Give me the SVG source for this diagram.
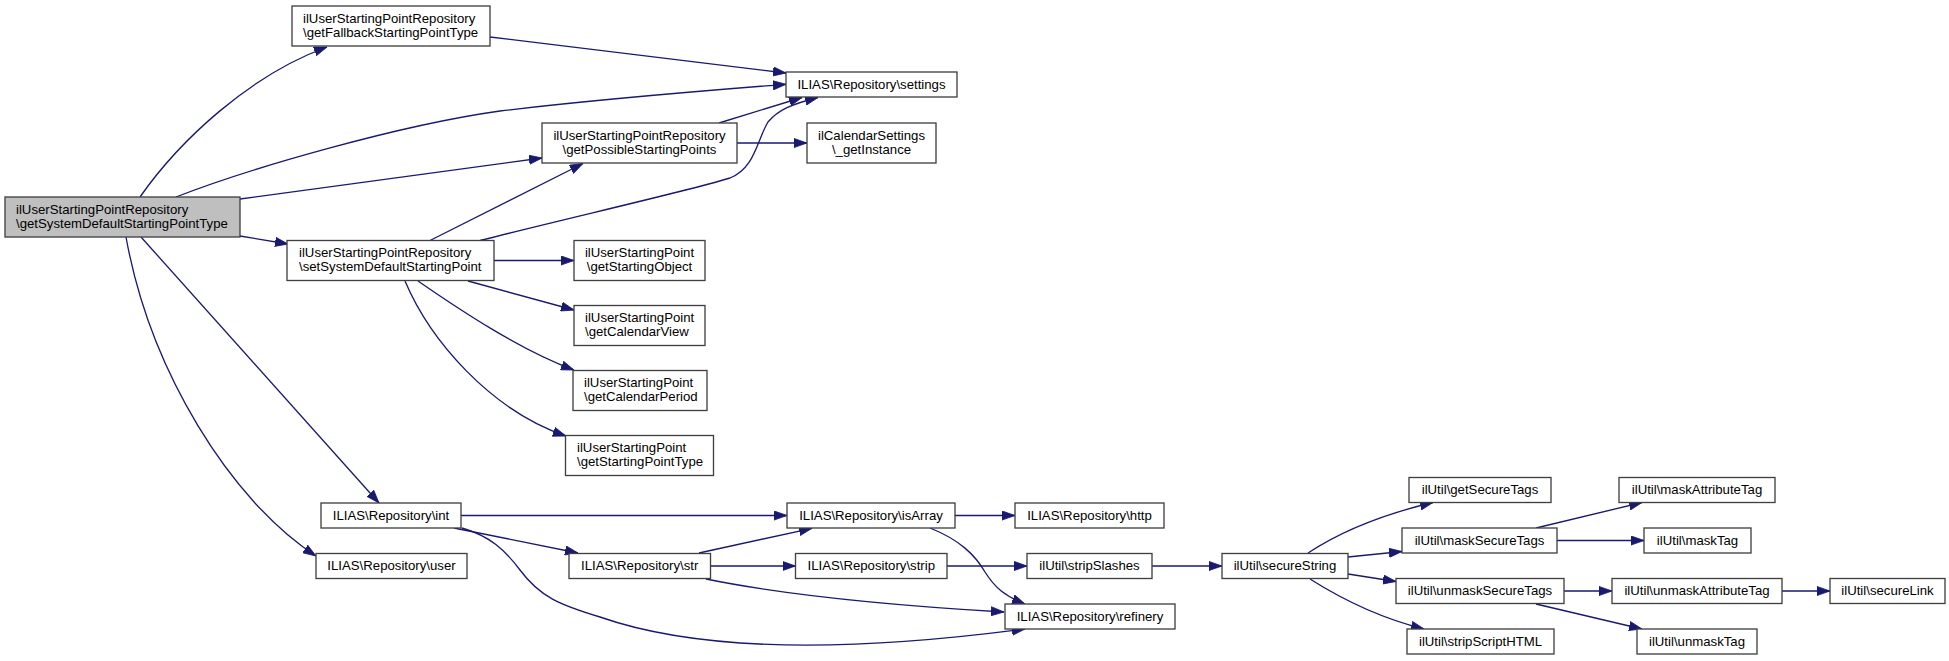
<svg xmlns="http://www.w3.org/2000/svg" width="1949" height="661" viewBox="0 0 1949 661">
<style>
.n rect{fill:#fff;stroke:#404040;stroke-width:1.33}
.n.main rect{fill:#bfbfbf}
.n text{font-family:"Liberation Sans",Arial,Helvetica,sans-serif;font-size:13.2px;fill:#000}
.c{text-anchor:middle}
.e path{fill:none;stroke:#191970;stroke-width:1.33;marker-end:url(#ah)}
</style>
<defs>
<marker id="ah" viewBox="0 0 13 10" refX="13" refY="5" markerWidth="13" markerHeight="10" markerUnits="userSpaceOnUse" orient="auto">
<path d="M0,0.4 L13,5 L0,9.6 z" fill="#191970" stroke="#191970" stroke-width="0.8"/>
</marker>
</defs>
<rect width="1949" height="661" fill="#fff"/>
<g id="edges" class="e">
<path d="M140,197 C180,140 250,75 327,47"/>
<path d="M176,197 C250,168 400,125 500,111 C600,99 700,91 786,84.3"/>
<path d="M240,199 L542,158"/>
<path d="M240,236 L288,244"/>
<path d="M141,237 L379,503"/>
<path d="M126,237 C150,370 230,500 316,556"/>
<path d="M490,37 L786,73"/>
<path d="M719,123 L802,97.5"/>
<path d="M737,143 L807,143"/>
<path d="M430,240.5 L583,163.5"/>
<path d="M480,240.5 C560,220 700,188 730,178 C755,168 757,140 768,122 C778,110 792,104 818,97.5"/>
<path d="M494,260.5 L574,260.5"/>
<path d="M468,281 L574,310"/>
<path d="M418,281 C460,310 520,350 574,370"/>
<path d="M405,281 C430,340 490,410 566,436"/>
<path d="M461,515.5 L787,515.5"/>
<path d="M454,528 L578,553"/>
<path d="M462,528 C490,536 505,550 520,570 C540,597 560,605 600,617 C700,652 850,652 1025,629"/>
<path d="M699,553 L812,528.3"/>
<path d="M710.5,566 L795.5,566"/>
<path d="M706,579 C760,590 850,603 1004,612"/>
<path d="M955,515.5 L1015,515.5"/>
<path d="M930,528 C960,540 975,555 985,572 C995,588 1005,596 1025,604"/>
<path d="M947,566 L1027,566"/>
<path d="M1152,566 L1222,566"/>
<path d="M1308,553 C1340,532 1380,515 1433,502.5"/>
<path d="M1348,557 L1402,551.5"/>
<path d="M1348,574 L1396,581.5"/>
<path d="M1310,579 C1340,598 1380,618 1424,629"/>
<path d="M1536,528 L1642,502.5"/>
<path d="M1557,540.5 L1644,540.5"/>
<path d="M1564,591 L1612,591"/>
<path d="M1536,604 L1642,629"/>
<path d="M1782,591 L1830,591"/>
</g>
<g id="n_main" class="n main"><rect x="5" y="197" width="235" height="40"/><text x="16" y="213.5">ilUserStartingPointRepository</text><text x="16" y="227.5">\getSystemDefaultStartingPointType</text></g>
<g id="n_fallback" class="n"><rect x="292" y="6" width="198" height="40"/><text x="303" y="22.5">ilUserStartingPointRepository</text><text x="303" y="36.5">\getFallbackStartingPointType</text></g>
<g id="n_possible" class="n"><rect x="542" y="123" width="195" height="40"/><text class="c" x="639.5" y="139.5">ilUserStartingPointRepository</text><text class="c" x="639.5" y="153.5">\getPossibleStartingPoints</text></g>
<g id="n_setsys" class="n"><rect x="287" y="240.5" width="207" height="40"/><text x="299" y="257">ilUserStartingPointRepository</text><text x="299" y="271">\setSystemDefaultStartingPoint</text></g>
<g id="n_settings" class="n"><rect x="786" y="72" width="171" height="25"/><text class="c" x="871.5" y="88.5">ILIAS\Repository\settings</text></g>
<g id="n_getinstance" class="n"><rect x="807" y="123" width="129" height="40"/><text class="c" x="871.5" y="139.5">ilCalendarSettings</text><text class="c" x="871.5" y="153.5">\_getInstance</text></g>
<g id="n_startobj" class="n"><rect x="574" y="240.5" width="131" height="40"/><text class="c" x="639.5" y="257">ilUserStartingPoint</text><text class="c" x="639.5" y="271">\getStartingObject</text></g>
<g id="n_calview" class="n"><rect x="574" y="305.5" width="131" height="40"/><text x="585" y="322">ilUserStartingPoint</text><text x="585" y="336">\getCalendarView</text></g>
<g id="n_calperiod" class="n"><rect x="573" y="370.5" width="134" height="40"/><text x="584" y="387">ilUserStartingPoint</text><text x="584" y="401">\getCalendarPeriod</text></g>
<g id="n_sptype" class="n"><rect x="565.5" y="435.5" width="148" height="40"/><text x="577" y="452">ilUserStartingPoint</text><text x="577" y="466">\getStartingPointType</text></g>
<g id="n_int" class="n"><rect x="321" y="503" width="140" height="25"/><text class="c" x="391" y="519.5">ILIAS\Repository\int</text></g>
<g id="n_user" class="n"><rect x="316" y="553.5" width="151" height="25"/><text class="c" x="391.5" y="570">ILIAS\Repository\user</text></g>
<g id="n_str" class="n"><rect x="569" y="553.5" width="141.5" height="25"/><text class="c" x="639.75" y="570">ILIAS\Repository\str</text></g>
<g id="n_isarray" class="n"><rect x="787" y="503" width="168" height="25"/><text class="c" x="871" y="519.5">ILIAS\Repository\isArray</text></g>
<g id="n_http" class="n"><rect x="1015" y="503" width="149" height="25"/><text class="c" x="1089.5" y="519.5">ILIAS\Repository\http</text></g>
<g id="n_strip" class="n"><rect x="795.5" y="553.5" width="151.5" height="25"/><text class="c" x="871.25" y="570">ILIAS\Repository\strip</text></g>
<g id="n_stripslashes" class="n"><rect x="1027" y="553.5" width="125" height="25"/><text class="c" x="1089.5" y="570">ilUtil\stripSlashes</text></g>
<g id="n_refinery" class="n"><rect x="1005" y="604" width="170" height="25"/><text class="c" x="1090" y="620.5">ILIAS\Repository\refinery</text></g>
<g id="n_securestring" class="n"><rect x="1222" y="553.5" width="126" height="25"/><text class="c" x="1285" y="570">ilUtil\secureString</text></g>
<g id="n_getsecuretags" class="n"><rect x="1409" y="477.5" width="142" height="25"/><text class="c" x="1480" y="494">ilUtil\getSecureTags</text></g>
<g id="n_masksecuretags" class="n"><rect x="1402" y="528" width="155" height="25"/><text class="c" x="1479.5" y="544.5">ilUtil\maskSecureTags</text></g>
<g id="n_unmasksecuretags" class="n"><rect x="1396" y="578.5" width="168" height="25"/><text class="c" x="1480" y="595">ilUtil\unmaskSecureTags</text></g>
<g id="n_stripscripthtml" class="n"><rect x="1407" y="629" width="147" height="25"/><text class="c" x="1480.5" y="645.5">ilUtil\stripScriptHTML</text></g>
<g id="n_maskattributetag" class="n"><rect x="1619" y="477.5" width="156" height="25"/><text class="c" x="1697" y="494">ilUtil\maskAttributeTag</text></g>
<g id="n_masktag" class="n"><rect x="1644" y="528" width="107" height="25"/><text class="c" x="1697.5" y="544.5">ilUtil\maskTag</text></g>
<g id="n_unmaskattributetag" class="n"><rect x="1612" y="578.5" width="170" height="25"/><text class="c" x="1697" y="595">ilUtil\unmaskAttributeTag</text></g>
<g id="n_unmasktag" class="n"><rect x="1637" y="629" width="120" height="25"/><text class="c" x="1697" y="645.5">ilUtil\unmaskTag</text></g>
<g id="n_securelink" class="n"><rect x="1830" y="578.5" width="115" height="25"/><text class="c" x="1887.5" y="595">ilUtil\secureLink</text></g>
</svg>
